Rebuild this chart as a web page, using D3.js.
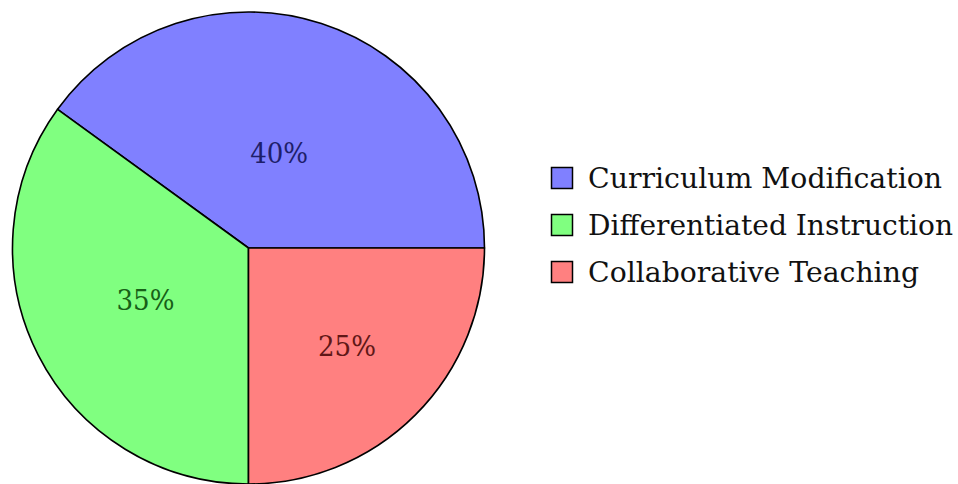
<!DOCTYPE html>
<html>
<head>
<meta charset="utf-8">
<script src="https://cdn.jsdelivr.net/npm/d3@7"></script>
<style>
  html, body { margin: 0; padding: 0; background: #fff; }
  svg { display: block; }
  text { font-family: "DejaVu Serif", serif; }
</style>
</head>
<body>
<svg id="chart" width="958" height="484"></svg>
<script>
// Share of inclusive teaching strategies
const categories = ["Curriculum Modification", "Differentiated Instruction", "Collaborative Teaching"];
const shares = [40, 35, 25];
const fills = ["#8080ff", "#80ff80", "#ff8080"];
const labelColors = ["#1e1e6a", "#176017", "#601717"];

// Layout
const W = 958, H = 484;
const cx = 248.5, cy = 248, radius = 236;
const labelRadiusFactor = [0.42, 0.49, 0.59];
const legendX = 551, legendY = 167, legendStep = 47, box = 22;
const legendTextWidths = [354, 365, 331];
const pctTextWidth = 58;

const svg = d3.select("#chart");

const data = categories.map((c, i) => ({ name: c, value: shares[i], i }));

// Slices run counter-clockwise starting from 3 o'clock
const pie = d3.pie()
  .sort(null)
  .value(d => d.value)
  .startAngle(Math.PI / 2)
  .endAngle(Math.PI / 2 - 2 * Math.PI);

const arcs = pie(data);
const arc = d3.arc().innerRadius(0).outerRadius(radius);

const g = svg.append("g").attr("transform", `translate(${cx},${cy})`);

g.selectAll("path.slice")
  .data(arcs)
  .join("path")
  .attr("class", "slice")
  .attr("d", arc)
  .attr("fill", d => fills[d.data.i])
  .attr("stroke", "#000")
  .attr("stroke-width", 1.6)
  .attr("stroke-linejoin", "round");

// Percentage labels along each slice's mid-angle
g.selectAll("text.pct")
  .data(arcs)
  .join("text")
  .attr("class", "pct")
  .attr("x", d => {
    const a = (d.startAngle + d.endAngle) / 2;
    return Math.sin(a) * radius * labelRadiusFactor[d.data.i];
  })
  .attr("y", d => {
    const a = (d.startAngle + d.endAngle) / 2;
    return -Math.cos(a) * radius * labelRadiusFactor[d.data.i];
  })
  .attr("text-anchor", "middle")
  .attr("dominant-baseline", "central")
  .attr("font-size", 28)
  .attr("textLength", pctTextWidth)
  .attr("lengthAdjust", "spacingAndGlyphs")
  .attr("fill", d => labelColors[d.data.i])
  .text(d => d.data.value + "%");

// Legend
const legend = svg.append("g");
const rows = legend.selectAll("g.row")
  .data(data)
  .join("g")
  .attr("class", "row")
  .attr("transform", d => `translate(${legendX},${legendY + d.i * legendStep})`);

rows.append("rect")
  .attr("x", 0.5).attr("y", 0.5)
  .attr("width", box - 1).attr("height", box - 1)
  .attr("fill", d => fills[d.i])
  .attr("stroke", "#000")
  .attr("stroke-width", 1.5);

rows.append("text")
  .attr("x", 37)
  .attr("y", 21)
  .attr("font-size", 28)
  .attr("fill", "#111")
  .attr("textLength", d => legendTextWidths[d.i])
  .attr("lengthAdjust", "spacingAndGlyphs")
  .text(d => d.name);
</script>
</body>
</html>
